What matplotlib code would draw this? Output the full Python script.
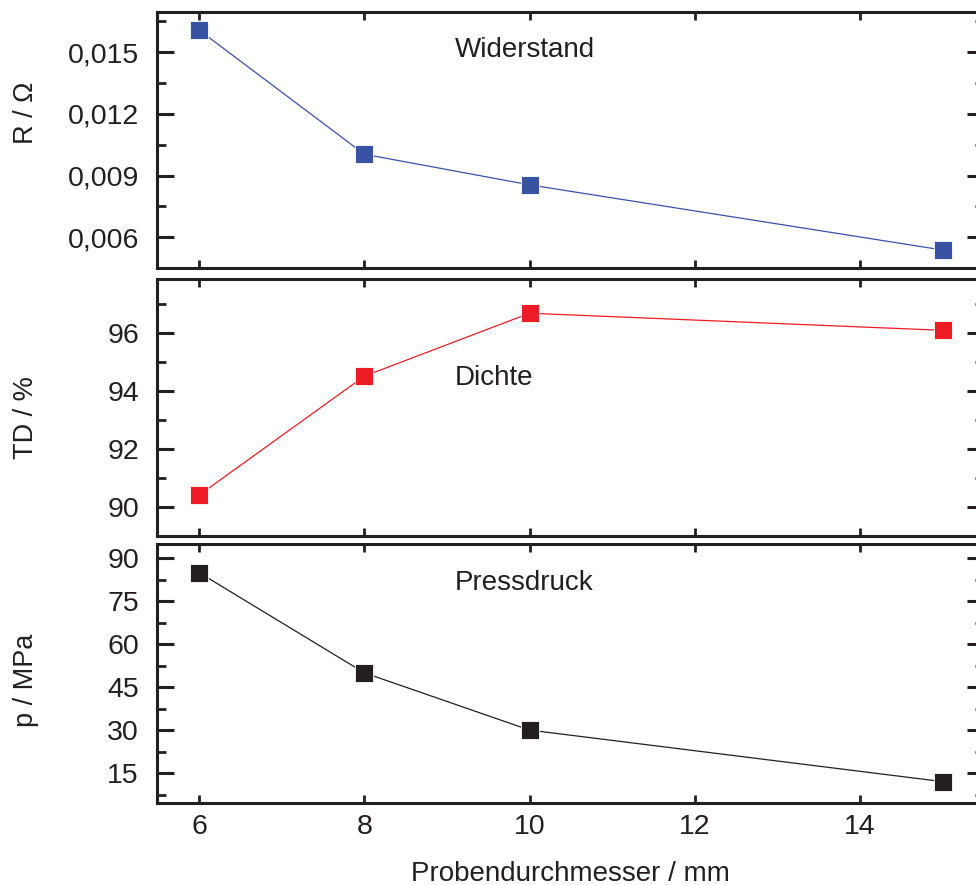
import numpy as np
import matplotlib
matplotlib.use('Agg')
import matplotlib.pyplot as plt
from matplotlib.transforms import blended_transform_factory
from matplotlib.ticker import MultipleLocator, FuncFormatter

plt.rcParams['font.family'] = ['Liberation Sans', 'DejaVu Sans']

# ── Data ─────────────────────────────────────────────────────────────────────
diameter = [6, 8, 10, 15]                          # Probendurchmesser / mm
resistance = [0.01608, 0.01004, 0.00855, 0.00538]  # R / Ohm
density = [90.4, 94.5, 96.67, 96.08]               # TD / %
pressure = [85.0, 50.0, 30.0, 12.0]                # p / MPa

labels = ['R / Ω', 'TD / %', 'p / MPa']
names = ['Widerstand', 'Dichte', 'Pressdruck']
colors = ['#3953A4', '#ED1C24', '#231F20']
INK = '#231F20'

# ── Layout (pixels measured on a 976x885 canvas) ─────────────────────────────
W, H = 976, 885
fig = plt.figure(figsize=(W / 100, H / 100), dpi=100)

left, right = 157, 984
panels = [(12, 268.3), (279, 535.7), (544, 802.7)]
ylims = [(0.00449, 0.01696), (89.0, 97.85), (4.64, 95.0)]
majors = [0.003, 2, 15]
fmts = [lambda v, p: f"{v:.3f}".replace('.', ','),
        lambda v, p: f"{v:.0f}",
        lambda v, p: f"{v:.0f}"]
label_y = [0.606, 0.46, 0.475]
text_y = [50, 378, 583]   # pixel y of annotation centre

series = [resistance, density, pressure]
axes = []
for i, (top, bot) in enumerate(panels):
    ax = fig.add_axes([left / W, 1 - bot / H, (right - left) / W, (bot - top) / H])
    axes.append(ax)
    ax.plot(diameter, series[i], '-', color=colors[i], lw=0.9,
            marker='s', ms=12.5, mfc=colors[i], mec='white', mew=0.6)
    ax.set_xlim(5.49, 15.5)
    ax.set_ylim(*ylims[i])
    ax.xaxis.set_major_locator(MultipleLocator(2))
    ax.yaxis.set_major_locator(MultipleLocator(majors[i]))
    ax.yaxis.set_minor_locator(MultipleLocator(majors[i] / 2))
    ax.yaxis.set_major_formatter(FuncFormatter(fmts[i]))
    for s in ax.spines.values():
        s.set_linewidth(2.2)
        s.set_color(INK)
    ax.tick_params(axis='x', which='major', direction='in', length=6, width=2,
                   top=True, bottom=True, labelsize=20.5, pad=8, colors=INK)
    ax.tick_params(axis='y', which='major', direction='in', length=12, width=2.2,
                   left=True, right=True, labelsize=20.5, pad=13, colors=INK)
    ax.tick_params(axis='y', which='minor', direction='in', length=6.5, width=2,
                   left=True, right=True, colors=INK)
    if i < 2:
        ax.tick_params(axis='x', labelbottom=False)
    ax.set_ylabel(labels[i], fontsize=19.5, color=INK, va='center')
    ax.yaxis.set_label_coords(-0.158, label_y[i])
    ty = (bot - text_y[i]) / (bot - top)
    ax.text(9.1, ty, names[i],
            transform=blended_transform_factory(ax.transData, ax.transAxes),
            fontsize=20, color=INK, ha='left', va='center')

axes[-1].set_xlabel('Probendurchmesser / mm', fontsize=20, color=INK, labelpad=15)

plt.savefig('out.png', dpi=100)
